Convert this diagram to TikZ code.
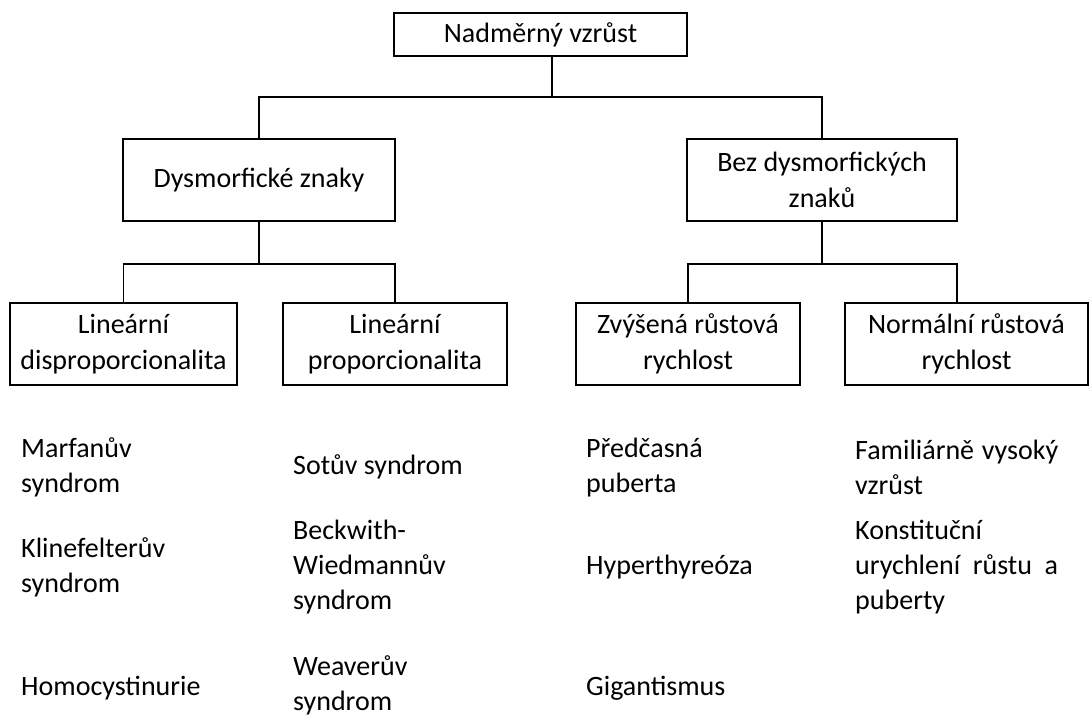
\documentclass[tikz,border=0pt]{standalone}
\usepackage{fontspec}
\setmainfont{Carlito}
\usetikzlibrary{positioning,calc}

\begin{document}
\begin{tikzpicture}[x=1pt, y=-1pt,
  box/.style={draw=black, line width=1.9pt, align=center, inner sep=2pt, minimum height=82pt, font=\fontsize{28}{36}\selectfont},
  item/.style={anchor=west, align=left, inner sep=0pt, font=\fontsize{28}{35}\selectfont},
  link/.style={line width=1.9pt, black}]
  \useasboundingbox (0,0) rectangle (1090,717);
  % boxes
  \node[box, minimum width=293pt, minimum height=43pt] (top) at (540.5,34.5) {Nadměrný vzrůst};
  \node[box, minimum width=272pt] (dys) at (259,180) {Dysmorfické znaky};
  \node[box, minimum width=270pt] (bez) at (822,180) {Bez dysmorfických\\znaků};
  \node[box, minimum width=227pt] (lindis) at (123.5,344) {Lineární\\disproporcionalita};
  \node[box, minimum width=224pt] (linpro) at (395,344) {Lineární\\proporcionalita};
  \node[box, minimum width=224pt] (zvy) at (688,344) {Zvýšená růstová\\rychlost};
  \node[box, minimum width=243pt] (nor) at (966.5,344) {Normální růstová\\rychlost};
  \coordinate (split) at (552,97);
  % connectors
  \draw[link] (top.south -| split) -- (split);
  \draw[link] (dys.north) |- (split) -| (bez.north);
  \draw[link] (dys.south) -- ++(0,42) coordinate (lsplit) -| (lindis.north);
  \draw[link] (lsplit) -| (linpro.north);
  \draw[link] (bez.south) -- ++(0,42) coordinate (rsplit) -| (zvy.north);
  \draw[link] (rsplit) -| ([xshift=-9.5pt]nor.north);
  % lists
  \node[item] (marf) at (21,467.5) {Marfanův\\syndrom};
  \node[item] (klin) at (21,567.5) {Klinefelterův\\syndrom};
  \node[item] (homo) at (21,688) {Homocystinurie};
  \node[item] (sotu) at (293,467) {Sotův syndrom};
  \node[item] (beck) at (293,567) {Beckwith-\\Wiedmannův\\syndrom};
  \node[item] (weav) at (293,685) {Weaverův\\syndrom};
  \node[item] (pred) at (586,467.5) {Předčasná\\puberta};
  \node[item] (hyper) at (586,567) {Hyperthyreóza};
  \node[item] (giga) at (586,688) {Gigantismus};
  \node[item] (fam) at (855,467.5) {\makebox[203pt][s]{Familiárně vysoký}\\vzrůst};
  \node[item] (kons) at (855,567) {Konstituční\\\makebox[203pt][s]{urychlení růstu a}\\puberty};
\end{tikzpicture}
\end{document}
